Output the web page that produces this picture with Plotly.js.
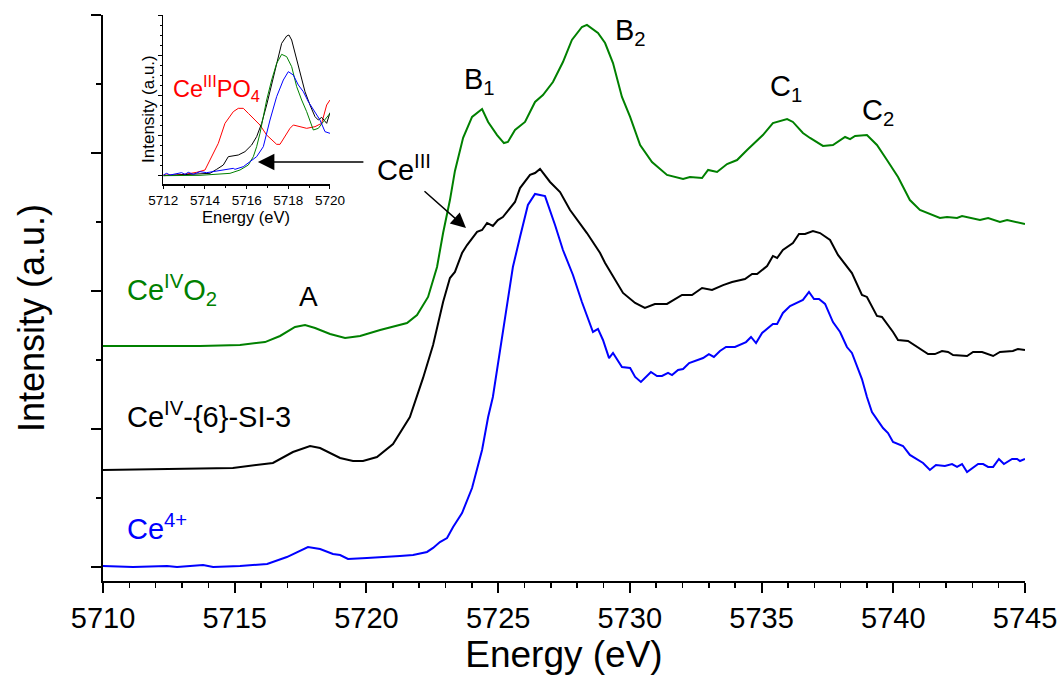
<!DOCTYPE html>
<html>
<head>
<meta charset="utf-8">
<script src="https://cdn.plot.ly/plotly-3.0.1.min.js"></script>
<style>html,body{margin:0;padding:0;background:#fff;}#chart{width:1061px;height:675px;}</style>
</head>
<body>
<div id="chart"></div>
<script>
// ---------- main panel data (energy in eV, stacked intensity in a.u.) ----------
const ceo2_E = [5710.00,5713.68,5715.20,5716.15,5716.72,5717.29,5717.67,5718.05,5718.62,5719.19,5719.76,5720.52,5721.54,5721.92,5722.34,5722.53,5722.68,5722.91,5723.17,5723.36,5723.67,5724.01,5724.39,5724.62,5724.96,5725.22,5725.37,5725.64,5726.02,5726.40,5726.70,5727.08,5727.46,5727.80,5728.18,5728.37,5728.79,5729.06,5729.36,5729.70,5730.01,5730.39,5730.84,5731.41,5732.02,5732.28,5732.74,5732.97,5733.31,5733.69,5734.07,5734.45,5735.05,5735.43,5735.97,5736.19,5736.57,5736.84,5737.33,5737.71,5738.17,5738.36,5738.55,5739.00,5739.38,5739.76,5740.18,5740.63,5741.01,5741.77,5742.04,5742.42,5742.61,5743.29,5743.60,5744.05,5744.32,5745.00];
const ceo2_I = [1.601,1.601,1.609,1.630,1.674,1.739,1.754,1.732,1.688,1.659,1.674,1.717,1.768,1.826,1.957,2.080,2.174,2.420,2.659,2.870,3.110,3.261,3.319,3.225,3.130,3.072,3.080,3.167,3.225,3.370,3.420,3.514,3.659,3.819,3.913,3.928,3.870,3.797,3.652,3.406,3.261,3.058,2.935,2.841,2.812,2.826,2.819,2.877,2.862,2.920,2.949,3.022,3.130,3.217,3.246,3.225,3.145,3.109,3.051,3.058,3.116,3.101,3.123,3.130,3.058,2.949,2.826,2.659,2.587,2.529,2.536,2.529,2.543,2.514,2.529,2.500,2.514,2.486];

const sample_E = [5710.00,5714.93,5716.45,5717.21,5717.86,5718.24,5719.00,5719.49,5719.87,5720.40,5721.01,5721.65,5722.15,5722.53,5722.91,5723.17,5723.36,5723.63,5723.82,5724.20,5724.39,5724.58,5724.80,5724.99,5725.18,5725.53,5725.64,5725.83,5726.21,5726.40,5726.59,5726.97,5727.35,5727.73,5728.37,5728.87,5729.06,5729.74,5730.20,5730.57,5730.95,5731.41,5731.98,5732.36,5732.74,5733.12,5733.54,5733.88,5734.37,5734.64,5734.83,5735.21,5735.43,5735.59,5735.81,5736.19,5736.42,5736.65,5736.95,5737.22,5737.60,5737.90,5738.24,5738.43,5738.81,5739.00,5739.38,5739.57,5739.99,5740.18,5740.56,5740.90,5741.32,5741.58,5741.85,5742.08,5742.27,5742.80,5743.03,5743.37,5743.79,5744.05,5744.54,5744.73,5745.00];
const sample_I = [0.703,0.717,0.754,0.833,0.877,0.862,0.790,0.768,0.768,0.797,0.891,1.087,1.370,1.609,1.920,2.094,2.138,2.275,2.333,2.428,2.442,2.493,2.471,2.514,2.536,2.623,2.645,2.746,2.841,2.855,2.884,2.790,2.717,2.587,2.420,2.275,2.203,1.986,1.913,1.877,1.906,1.906,1.971,1.971,2.022,2.007,2.043,2.065,2.087,2.123,2.123,2.181,2.254,2.239,2.297,2.348,2.413,2.413,2.435,2.420,2.370,2.261,2.174,2.130,1.971,1.957,1.819,1.812,1.703,1.645,1.638,1.594,1.543,1.543,1.565,1.558,1.536,1.529,1.558,1.558,1.529,1.558,1.565,1.580,1.572];

const ce4_E = [5710.00,5711.14,5712.43,5712.81,5713.80,5714.18,5715.20,5716.23,5716.98,5717.48,5717.78,5718.24,5718.73,5719.00,5719.30,5720.02,5720.78,5721.27,5721.77,5722.30,5722.53,5722.79,5723.06,5723.29,5723.63,5724.01,5724.39,5724.62,5724.80,5725.07,5725.37,5725.56,5725.83,5726.13,5726.40,5726.78,5727.16,5727.46,5727.84,5728.18,5728.60,5728.79,5728.98,5729.21,5729.36,5729.70,5730.01,5730.20,5730.42,5730.61,5730.80,5731.03,5731.22,5731.45,5731.60,5731.83,5732.02,5732.25,5732.55,5732.78,5733.00,5733.19,5733.42,5733.65,5733.99,5734.41,5734.60,5734.79,5735.02,5735.43,5735.59,5735.81,5736.08,5736.38,5736.57,5736.80,5736.99,5737.18,5737.41,5737.71,5737.98,5738.24,5738.43,5738.81,5739.00,5739.19,5739.61,5739.80,5739.99,5740.37,5740.63,5741.13,5741.39,5741.62,5741.96,5742.23,5742.42,5742.61,5742.80,5743.22,5743.41,5743.60,5743.79,5744.01,5744.20,5744.51,5744.70,5744.81,5745.00];
const ce4_I = [0.007,0.000,0.007,0.000,0.014,0.000,0.007,0.022,0.072,0.116,0.145,0.130,0.094,0.087,0.058,0.065,0.072,0.080,0.087,0.109,0.138,0.181,0.210,0.290,0.391,0.572,0.848,1.087,1.232,1.572,1.935,2.174,2.391,2.623,2.703,2.688,2.478,2.297,2.116,1.920,1.703,1.725,1.645,1.514,1.551,1.449,1.442,1.377,1.341,1.377,1.413,1.384,1.384,1.406,1.391,1.428,1.435,1.478,1.500,1.514,1.543,1.522,1.565,1.594,1.594,1.630,1.667,1.623,1.696,1.761,1.761,1.841,1.891,1.920,1.935,1.993,1.942,1.942,1.906,1.775,1.703,1.594,1.551,1.362,1.232,1.123,1.007,0.971,0.906,0.877,0.812,0.754,0.703,0.739,0.732,0.746,0.725,0.746,0.688,0.746,0.746,0.725,0.725,0.783,0.746,0.783,0.783,0.768,0.783];

// ---------- inset data (pre-edge region) ----------
const inPO4_E = [5712.00,5712.64,5713.12,5713.60,5714.00,5714.32,5714.64,5714.96,5715.12,5715.36,5715.60,5715.84,5716.08,5716.32,5716.64,5716.96,5717.28,5717.44,5717.60,5717.84,5718.08,5718.24,5718.56,5718.88,5719.28,5719.60,5719.84,5720.00];
const inPO4_I = [0.02,0.02,0.05,0.10,0.17,0.57,0.97,1.57,1.72,1.92,2.02,2.02,1.87,1.72,1.52,1.22,1.02,0.94,0.94,1.17,1.42,1.52,1.47,1.42,1.47,1.57,2.12,2.27];
const inSample_E = [5712.00,5714.24,5714.56,5714.88,5715.12,5715.28,5715.60,5715.92,5716.24,5716.48,5716.72,5716.96,5717.20,5717.44,5717.68,5717.92,5718.03,5718.16,5718.32,5718.56,5718.80,5719.04,5719.28,5719.44,5719.60,5719.84,5720.00];
const inSample_I = [0.00,0.07,0.19,0.32,0.57,0.59,0.62,0.72,0.92,1.17,1.57,2.12,2.72,3.37,3.97,4.19,4.22,4.07,3.67,3.07,2.52,2.12,1.77,1.67,1.75,1.57,1.89];
const inCeO2_E = [5712.00,5713.76,5715.20,5715.68,5716.08,5716.32,5716.48,5716.64,5716.80,5716.96,5717.20,5717.44,5717.68,5717.92,5718.16,5718.40,5718.64,5718.88,5719.20,5719.44,5719.68,5720.00];
const inCeO2_I = [0.00,0.01,0.07,0.17,0.32,0.57,0.87,1.27,1.77,2.27,2.87,3.37,3.64,3.57,3.27,2.67,2.27,1.92,1.37,1.42,1.62,1.87];
const inCe4_E = [5712.00,5712.16,5712.32,5712.64,5712.88,5713.04,5713.20,5713.44,5713.76,5714.08,5714.40,5714.72,5715.04,5715.36,5715.44,5715.84,5716.16,5716.48,5716.80,5716.96,5717.12,5717.44,5717.76,5718.00,5718.24,5718.48,5718.72,5718.96,5719.20,5719.52,5719.76,5720.00];
const inCe4_I = [0.02,0.07,0.02,0.07,0.09,0.04,0.10,0.04,0.12,0.09,0.12,0.14,0.17,0.22,0.19,0.27,0.42,0.57,0.87,1.27,1.67,2.37,2.87,3.12,3.02,2.72,2.52,2.22,1.97,1.67,1.32,1.27];

// ---------- tick labels ----------
const mainXTicks = [5710,5715,5720,5725,5730,5735,5740,5745];
const insetXTicks = [5712,5714,5716,5718,5720];

const GREEN = '#008000', BLUE = '#0000ff', RED = '#ff0000', BLACK = '#000000';
const FONT = '"Liberation Sans", Arial, Helvetica, sans-serif';

const traces = [
  {x: ceo2_E, y: ceo2_I, type: 'scatter', mode: 'lines', line: {color: GREEN, width: 2}, xaxis: 'x', yaxis: 'y', hoverinfo: 'skip'},
  {x: sample_E, y: sample_I, type: 'scatter', mode: 'lines', line: {color: BLACK, width: 2}, xaxis: 'x', yaxis: 'y', hoverinfo: 'skip'},
  {x: ce4_E, y: ce4_I, type: 'scatter', mode: 'lines', line: {color: BLUE, width: 2}, xaxis: 'x', yaxis: 'y', hoverinfo: 'skip'},
  {x: inPO4_E, y: inPO4_I, type: 'scatter', mode: 'lines', line: {color: RED, width: 1}, xaxis: 'x2', yaxis: 'y2', hoverinfo: 'skip'},
  {x: inSample_E, y: inSample_I, type: 'scatter', mode: 'lines', line: {color: BLACK, width: 1}, xaxis: 'x2', yaxis: 'y2', hoverinfo: 'skip'},
  {x: inCeO2_E, y: inCeO2_I, type: 'scatter', mode: 'lines', line: {color: GREEN, width: 1}, xaxis: 'x2', yaxis: 'y2', hoverinfo: 'skip'},
  {x: inCe4_E, y: inCe4_I, type: 'scatter', mode: 'lines', line: {color: BLUE, width: 1}, xaxis: 'x2', yaxis: 'y2', hoverinfo: 'skip'}
];

const ann = (text, x, y, color, size, extra) => Object.assign({
  text: text, x: x, y: y, xref: 'x', yref: 'y', showarrow: false,
  xanchor: 'left', yanchor: 'middle', font: {family: FONT, size: size, color: color}
}, extra || {});

const layout = {
  width: 1061, height: 675,
  margin: {l: 103, r: 36, t: 15, b: 94, pad: 0},
  paper_bgcolor: '#ffffff', plot_bgcolor: 'rgba(0,0,0,0)',
  showlegend: false,
  font: {family: FONT, color: BLACK},
  xaxis: {
    domain: [0, 1], range: [5710, 5745], anchor: 'y',
    tickmode: 'array', tickvals: mainXTicks, ticktext: mainXTicks.map(String),
    showline: true, linecolor: BLACK, linewidth: 2, mirror: false,
    ticks: 'outside', ticklen: 10, tickwidth: 2, tickcolor: BLACK,
    minor: {dtick: 1, ticks: 'outside', ticklen: 5, tickwidth: 1.5, tickcolor: BLACK, showgrid: false},
    showgrid: false, zeroline: false,
    tickfont: {family: FONT, size: 29, color: BLACK},
    title: {text: 'Energy (eV)', font: {family: FONT, size: 37, color: BLACK}, standoff: 6},
    automargin: false
  },
  yaxis: {
    domain: [0, 1], range: [-0.1015, 4.0], anchor: 'x',
    tick0: 0, dtick: 1, showticklabels: false,
    showline: true, linecolor: BLACK, linewidth: 2,
    ticks: 'outside', ticklen: 10, tickwidth: 2, tickcolor: BLACK,
    minor: {dtick: 0.5, ticks: 'outside', ticklen: 5, tickwidth: 1.5, tickcolor: BLACK, showgrid: false},
    showgrid: false, zeroline: false,
    automargin: false
  },
  xaxis2: {
    domain: [0.0654, 0.2462], range: [5712, 5720], anchor: 'y2',
    tickmode: 'array', tickvals: insetXTicks, ticktext: insetXTicks.map(String),
    showline: true, linecolor: BLACK, linewidth: 1.5,
    ticks: 'outside', ticklen: 3, tickwidth: 1, tickcolor: BLACK,
    minor: {dtick: 1, ticks: 'outside', ticklen: 2, tickwidth: 1, tickcolor: BLACK, showgrid: false},
    showgrid: false, zeroline: false,
    tickfont: {family: FONT, size: 13.5, color: BLACK},
    automargin: false
  },
  yaxis2: {
    domain: [0.7014, 1.0], range: [-0.25, 4.82], anchor: 'x2',
    tick0: 0, dtick: 1.205, showticklabels: false,
    showline: true, linecolor: BLACK, linewidth: 1.5,
    ticks: 'outside', ticklen: 4, tickwidth: 1, tickcolor: BLACK,
    minor: {dtick: 0.30125, ticks: 'outside', ticklen: 2, tickwidth: 1, tickcolor: BLACK, showgrid: false},
    showgrid: false, zeroline: false,
    automargin: false
  },
  annotations: [
    // axis titles
    {text: 'Intensity (a.u.)', xref: 'paper', yref: 'paper', x: -0.077, y: 0.4647, textangle: -90,
     xanchor: 'center', yanchor: 'middle', showarrow: false, font: {family: FONT, size: 36, color: BLACK}},
    {text: 'Energy (eV)', xref: 'paper', yref: 'paper', x: 0.1556, y: 0.6625,
     xanchor: 'center', yanchor: 'top', showarrow: false, font: {family: FONT, size: 16.5, color: BLACK}},
    {text: 'Intensity (a.u.)', xref: 'paper', yref: 'paper', x: 0.0499, y: 0.834, textangle: -90,
     xanchor: 'center', yanchor: 'middle', showarrow: false, font: {family: FONT, size: 17, color: BLACK}},
    // curve and feature labels
    ann('Ce<sup>IV</sup>O<sub>2</sub>', 5710.84, 2.007, GREEN, 29),
    ann('A', 5717.37, 1.957, BLACK, 28),
    ann('Ce<sup>IV</sup>-{6}-SI-3', 5710.84, 1.101, BLACK, 29),
    ann('Ce<sup>4+</sup>', 5710.84, 0.290, BLUE, 29),
    ann('B<sub>1</sub>', 5723.62, 3.52, BLACK, 29),
    ann('B<sub>2</sub>', 5729.36, 3.88, BLACK, 29),
    ann('C<sub>1</sub>', 5735.24, 3.47, BLACK, 29),
    ann('C<sub>2</sub>', 5738.74, 3.30, BLACK, 29),
    ann('Ce<sup>III</sup>', 5720.33, 2.891, BLACK, 29),
    ann('Ce<sup>III</sup>PO<sub>4</sub>', 5712.36, 2.62, RED, 23.5, {xref: 'x2', yref: 'y2'}),
    // arrows
    {text: '', x: 5715.88, y: 2.935, xref: 'x', yref: 'y', showarrow: true, ax: 107, ay: 0,
     arrowhead: 2, arrowsize: 2.2, arrowwidth: 1.5, arrowcolor: BLACK},
    {text: '', x: 5723.78, y: 2.457, xref: 'x', yref: 'y', showarrow: true, ax: -43, ay: -38,
     arrowhead: 2, arrowsize: 2, arrowwidth: 1.5, arrowcolor: BLACK}
  ]
};

Plotly.newPlot('chart', traces, layout, {staticPlot: true, displayModeBar: false});
</script>
</body>
</html>
